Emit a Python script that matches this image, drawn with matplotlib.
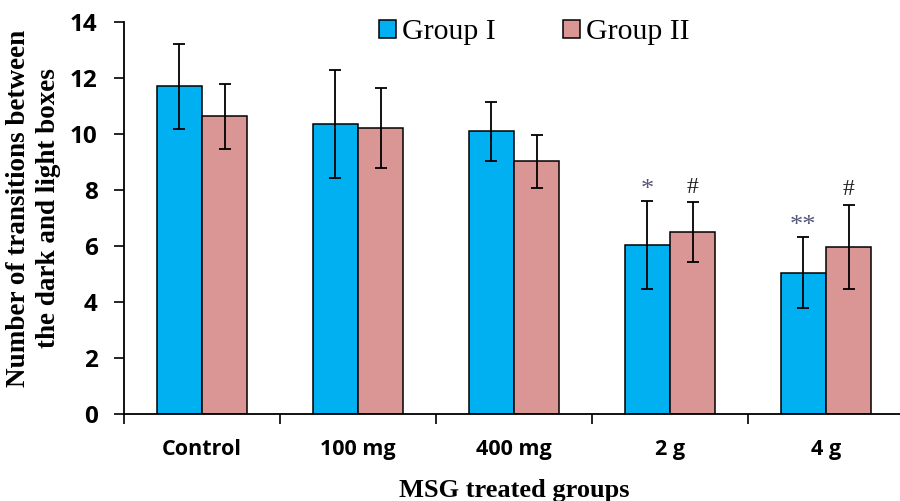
import matplotlib.pyplot as plt
import numpy as np

categories = ["Control", "100 mg", "400 mg", "2 g", "4 g"]
group1_mean = [11.7, 10.35, 10.1, 6.05, 5.05]
group1_err = [1.53, 1.93, 1.06, 1.57, 1.28]
group2_mean = [10.63, 10.2, 9.02, 6.5, 5.98]
group2_err = [1.16, 1.43, 0.95, 1.06, 1.5]
group1_marks = ["", "", "", "*", "**"]
group2_marks = ["", "", "", "#", "#"]

blue = "#00B0F0"
pink = "#D99694"
serif = "Liberation Serif"
sans = "Open Sans"

fig = plt.figure(figsize=(9, 5.01), dpi=100)
ax = fig.add_axes([0.1378, 0.1737, 0.8667, 0.7824])

x = np.arange(len(categories))
w = 0.29
err_kw = dict(ecolor="black", elinewidth=1.3, capsize=4.5, capthick=1.3)

ax.bar(x - w / 2, group1_mean, w, yerr=group1_err, color=blue,
       edgecolor="black", linewidth=1.1, error_kw=err_kw, label="Group I")
ax.bar(x + w / 2, group2_mean, w, yerr=group2_err, color=pink,
       edgecolor="black", linewidth=1.1, error_kw=err_kw, label="Group II")

# significance marks above error bars
for i in range(len(categories)):
  if group1_marks[i]:
    ax.text(x[i] - w / 2, group1_mean[i] + group1_err[i] + 0.0, group1_marks[i],
            ha="center", va="bottom", fontsize=19, color="#55557a", family=serif)
  if group2_marks[i]:
    ax.text(x[i] + w / 2, group2_mean[i] + group2_err[i] + 0.15, group2_marks[i],
            ha="center", va="bottom", fontsize=17, color="#222222", family=serif)

ax.set_ylim(0, 14)
ax.set_xlim(-0.5, len(categories) - 0.5)
ax.set_yticks(np.arange(0, 15, 2))
ax.set_yticklabels([str(v) for v in range(0, 15, 2)], fontsize=17.5,
                   fontweight="bold", family=sans)

ax.set_xticks(np.arange(-0.5, len(categories), 1.0))
ax.set_xticklabels([])
ax.set_xticks(x, minor=True)
ax.set_xticklabels(categories, minor=True, fontsize=15.5, fontweight="bold", family=sans)
ax.tick_params(axis="x", which="minor", length=0, pad=18)
ax.tick_params(axis="x", which="major", length=7, width=1.2, direction="out")
ax.tick_params(axis="y", length=7, width=1.2, direction="out", pad=12)

for s in ["top", "right"]:
  ax.spines[s].set_visible(False)
for s in ["left", "bottom"]:
  ax.spines[s].set_linewidth(1.3)

ax.set_ylabel("Number of transitions between\nthe dark and light boxes",
              fontsize=19.5, fontweight="bold", family=serif, linespacing=1.25)
ax.yaxis.set_label_coords(-0.081, 0.525)
ax.set_xlabel("MSG treated groups", fontsize=19, fontweight="bold", family=serif, labelpad=14)

leg = ax.legend(loc="upper center", bbox_to_anchor=(0.526, 1.075), ncol=2, frameon=False,
                prop={"family": serif, "size": 21.5}, handlelength=0.57, handleheight=0.57,
                handletextpad=0.2, columnspacing=2.27)

plt.savefig("out.png", dpi=100)
